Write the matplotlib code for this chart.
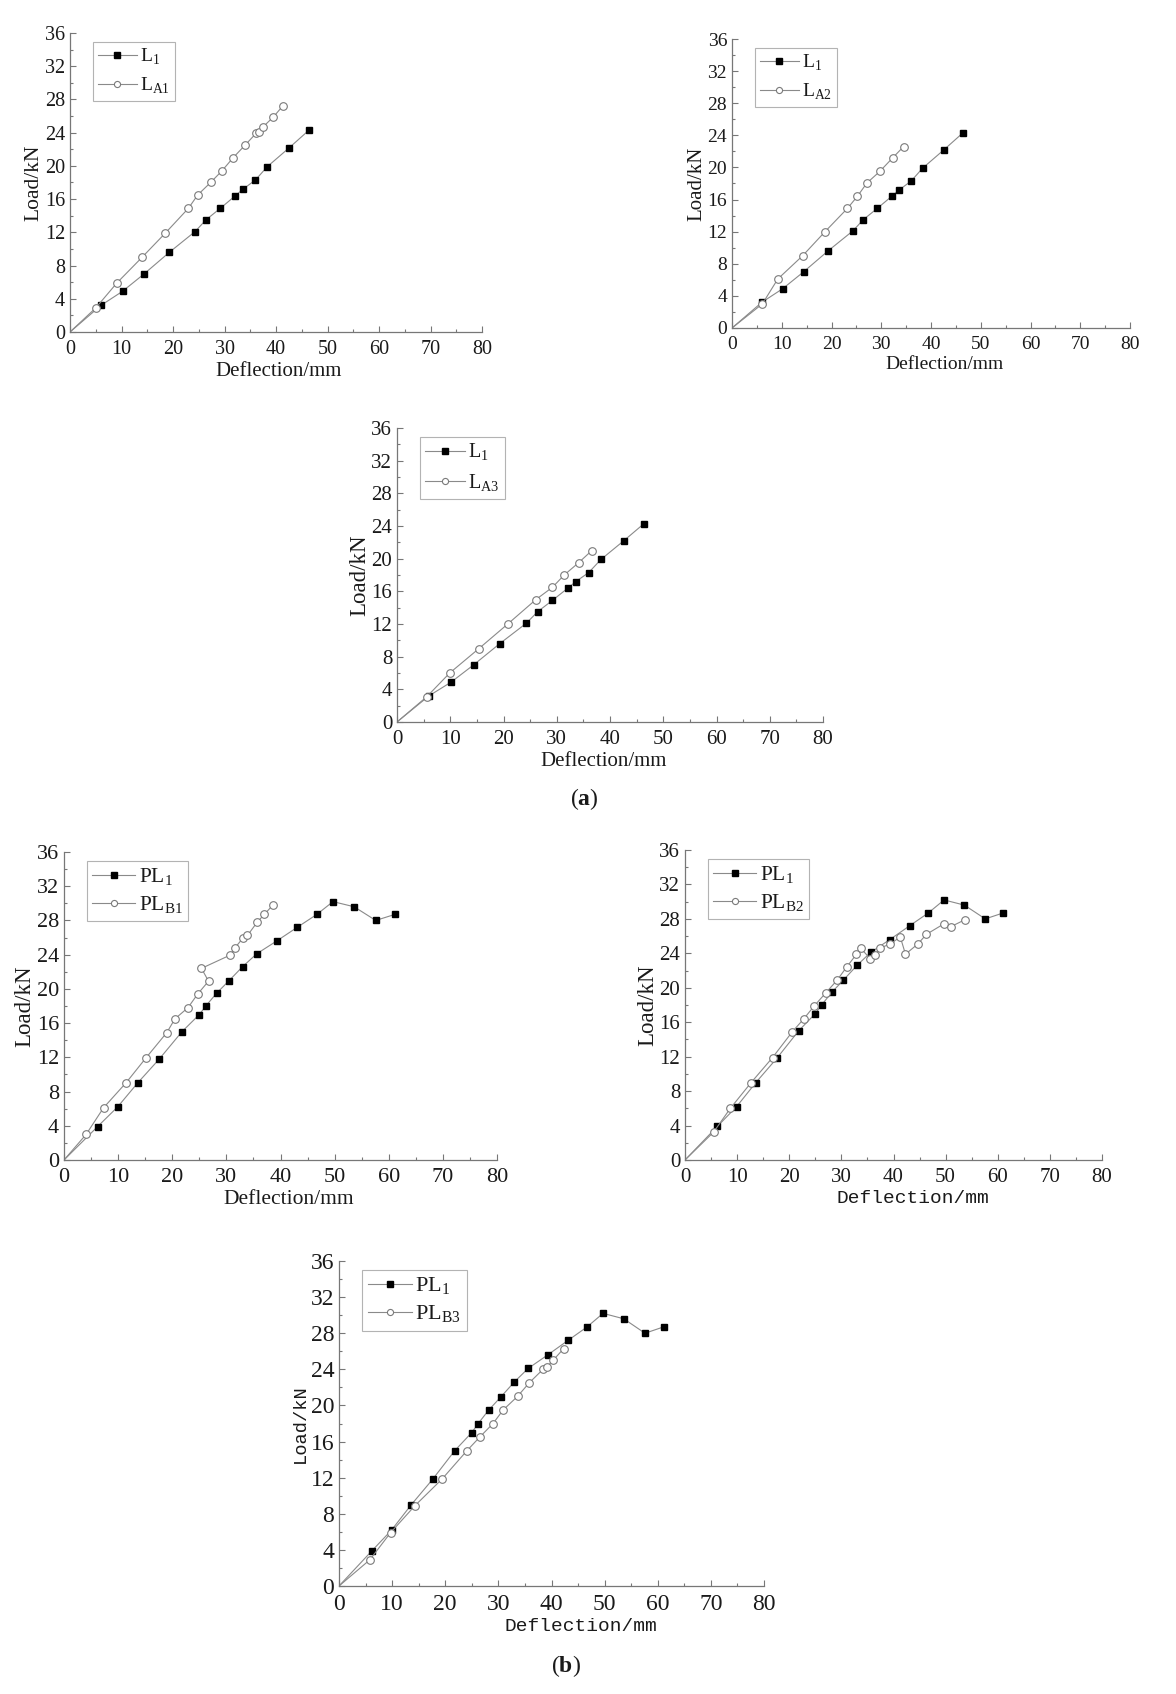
import matplotlib
matplotlib.use('Agg')
import matplotlib.pyplot as plt
from matplotlib.ticker import MultipleLocator

plt.rcParams['font.family'] = ['Liberation Serif', 'DejaVu Serif']
plt.rcParams['mathtext.fontset'] = 'custom'
plt.rcParams['mathtext.rm'] = 'Liberation Serif'
plt.rcParams['mathtext.bf'] = 'Liberation Serif:bold'

# Reference beam L1 (panels a)
L1_x = [0, 6.0, 10.2, 14.4, 19.3, 24.3, 26.4, 29.2, 32.1, 33.6, 36.0, 38.3, 42.6, 46.4]
L1_y = [0, 3.2, 4.9, 7.0, 9.6, 12.1, 13.5, 14.9, 16.4, 17.2, 18.3, 19.9, 22.2, 24.3]

LA1_x = [0, 5.0, 9.1, 14.0, 18.5, 23.0, 24.8, 27.3, 29.5, 31.7, 34.0, 36.1, 36.7, 37.5, 39.5, 41.3]
LA1_y = [0, 2.9, 5.9, 9.0, 11.9, 14.9, 16.5, 18.0, 19.4, 21.0, 22.5, 23.9, 24.1, 24.7, 25.9, 27.2]

LA2_x = [0, 6.1, 9.2, 14.2, 18.7, 23.2, 25.2, 27.1, 29.7, 32.3, 34.5]
LA2_y = [0, 3.0, 6.1, 9.0, 12.0, 14.9, 16.4, 18.05, 19.5, 21.2, 22.6]

LA3_x = [0, 5.6, 9.9, 15.4, 20.8, 26.1, 29.2, 31.4, 34.1, 36.6]
LA3_y = [0, 3.1, 6.0, 9.0, 12.0, 15.0, 16.5, 18.0, 19.5, 21.0]

# Reference beam PL1 (panels b)
PL1_x = [0, 6.2, 9.9, 13.6, 17.6, 21.8, 25.0, 26.2, 28.2, 30.4, 33.0, 35.6, 39.3, 43.1, 46.7, 49.7, 53.6, 57.6, 61.1]
PL1_y = [0, 3.9, 6.2, 9.0, 11.8, 15.0, 17.0, 18.0, 19.5, 20.9, 22.6, 24.1, 25.6, 27.2, 28.7, 30.2, 29.6, 28.0, 28.7]

PLB1_x = [0, 4.1, 7.3, 11.5, 15.1, 19.0, 20.5, 22.9, 24.7, 26.7, 25.4, 30.7, 31.6, 33.0, 33.9, 35.7, 37.0, 38.6]
PLB1_y = [0, 3.0, 6.1, 9.05, 11.9, 14.9, 16.5, 17.8, 19.4, 20.9, 22.4, 23.95, 24.8, 25.9, 26.25, 27.8, 28.7, 29.8]

PLB2_x = [0, 5.5, 8.7, 12.7, 16.8, 20.6, 22.8, 24.8, 27.0, 29.2, 31.0, 32.9, 33.7, 35.5, 36.4, 37.4, 39.4, 41.3, 42.3, 44.7, 46.3, 49.6, 51.0, 53.7]
PLB2_y = [0, 3.25, 6.0, 9.0, 11.9, 14.9, 16.4, 17.9, 19.4, 20.9, 22.4, 23.9, 24.6, 23.4, 23.8, 24.6, 25.1, 25.9, 23.9, 25.1, 26.2, 27.4, 27.1, 27.9]

PLB3_x = [0, 5.8, 9.7, 14.3, 19.4, 24.1, 26.5, 29.0, 30.9, 33.6, 35.8, 38.4, 39.2, 40.3, 42.3]
PLB3_y = [0, 2.9, 5.9, 8.9, 11.85, 15.0, 16.5, 18.0, 19.5, 21.0, 22.5, 24.0, 24.3, 25.0, 26.3]

W, H = 1176, 1694
fig = plt.figure(figsize=(W / 100, H / 100), dpi=100)

line_c = '#8a8a8a'
text_c = '#1a1a1a'

def panel(l, r, t, b, ref, refx, refy, other, ox, oy, ts=14.5, xs=15, ys=15.5, ls=14,
          lsp=0.45, xl_x=0.5, xfont=None, yfont=None):
    ax = fig.add_axes([l / W, 1 - b / H, (r - l) / W, (b - t) / H])
    ax.plot(refx, refy, color=line_c, lw=0.8, marker='s', ms=5, mfc='black', mec='black',
            markevery=list(range(1, len(refx))), label=ref)
    ax.plot(ox, oy, color=line_c, lw=0.8, marker='o', ms=5.5, mfc='white', mec='#7a7a7a', mew=0.8,
            markevery=list(range(1, len(ox))), label=other)
    ax.set_xlim(0, 80)
    ax.set_ylim(0, 36)
    ax.xaxis.set_major_locator(MultipleLocator(10))
    ax.xaxis.set_minor_locator(MultipleLocator(5))
    ax.yaxis.set_major_locator(MultipleLocator(4))
    ax.yaxis.set_minor_locator(MultipleLocator(2))
    for s in ['top', 'right']:
        ax.spines[s].set_visible(False)
    for s in ['left', 'bottom']:
        ax.spines[s].set_color('#777777')
        ax.spines[s].set_linewidth(0.9)
    ax.tick_params(which='major', direction='in', length=4, width=0.8, color='#777777',
                   labelsize=ts, labelcolor=text_c)
    ax.tick_params(which='minor', direction='in', length=2.2, width=0.8, color='#777777')
    ax.tick_params(axis='x', which='major', pad=6)
    ax.tick_params(axis='y', which='major', pad=3.5)
    ax.set_xlabel('Deflection/mm', fontsize=xs, color=text_c, labelpad=2,
                  family=xfont if xfont else None)
    ax.xaxis.label.set_x(xl_x)
    ax.set_ylabel('Load/kN', fontsize=ys, color=text_c, labelpad=1,
                  family=yfont if yfont else None)
    ax_w, ax_h = r - l, b - t
    leg = ax.legend(loc='upper left', bbox_to_anchor=(23 / ax_w, 1 - 9 / ax_h), fontsize=ls,
                    frameon=True, fancybox=False, edgecolor='#a0a0a0', handlelength=2.0,
                    handletextpad=0.15, borderpad=0.25, labelspacing=lsp, borderaxespad=0,
                    markerscale=0.8)
    leg.get_frame().set_linewidth(0.8)
    for t in leg.get_texts():
        t.set_color(text_c)
    return ax

panel(70, 482, 33, 332, r'L$_\mathregular{1}$', L1_x, L1_y, r'L$_\mathregular{A1}$', LA1_x, LA1_y,
      ts=14.5, xs=15, ys=15.5, xl_x=0.507)
panel(732, 1130, 39, 328, r'L$_\mathregular{1}$', L1_x, L1_y, r'L$_\mathregular{A2}$', LA2_x, LA2_y,
      ts=14, xs=14, ys=15, xl_x=0.533)
panel(397, 823, 428, 722, r'L$_\mathregular{1}$', L1_x, L1_y, r'L$_\mathregular{A3}$', LA3_x, LA3_y,
      ts=15, xs=15, ys=16.5, ls=14.5, xl_x=0.486)
panel(64, 497, 852, 1160, r'PL$_\mathregular{1}$', PL1_x, PL1_y, r'PL$_\mathregular{B1}$', PLB1_x, PLB1_y,
      ts=16, xs=15.5, ys=16.5, ls=15.5, lsp=0.3, xl_x=0.52)
panel(685, 1102, 850, 1160, r'PL$_\mathregular{1}$', PL1_x, PL1_y, r'PL$_\mathregular{B2}$', PLB2_x, PLB2_y,
      ts=15, xs=14, ys=16.5, ls=15.5, lsp=0.3, xl_x=0.546, xfont='Liberation Mono')
panel(339, 764, 1261, 1586, r'PL$_\mathregular{1}$', PL1_x, PL1_y, r'PL$_\mathregular{B3}$', PLB3_x, PLB3_y,
      ts=17, xs=14, ys=13.5, ls=16, lsp=0.3, xl_x=0.57, xfont='Liberation Mono', yfont='Liberation Mono')

fig.text(584 / W, 1 - 799 / H, r'($\mathbf{a}$)', ha='center', va='center', fontsize=17, color=text_c)
fig.text(566 / W, 1 - 1666 / H, r'($\mathbf{b}$)', ha='center', va='center', fontsize=17, color=text_c)

fig.savefig('out.png', dpi=100, facecolor='white')
